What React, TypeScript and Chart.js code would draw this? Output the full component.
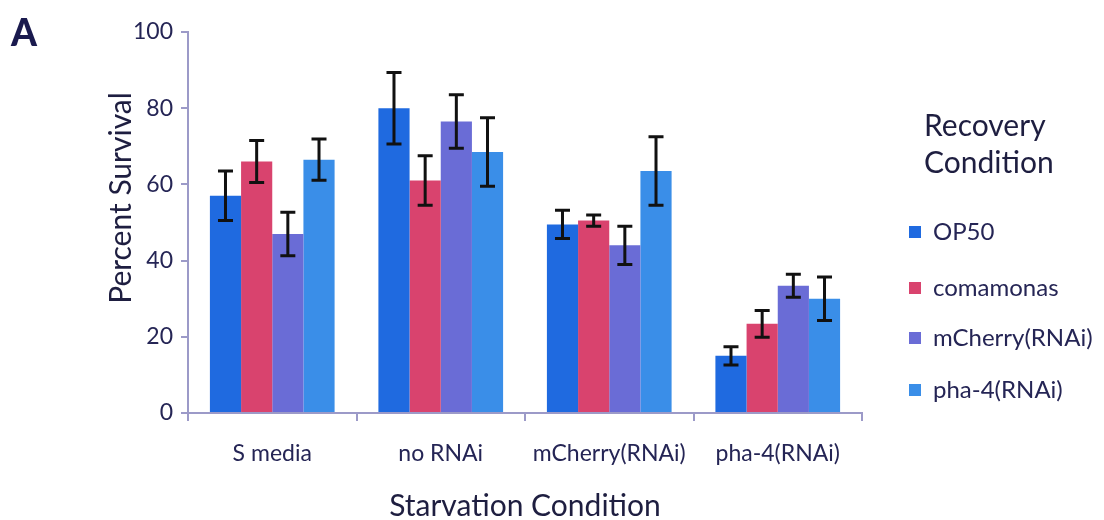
import React, { useEffect, useRef } from "react";
import { Chart, registerables } from "chart.js";

Chart.register(...registerables);

const categories = ["S media", "no RNAi", "mCherry(RNAi)", "pha-4(RNAi)"];
const seriesNames = ["OP50", "comamonas", "mCherry(RNAi)", "pha-4(RNAi)"];
const op50 = [57, 80, 49.5, 15];
const comamonas = [66, 61, 50.5, 23.4];
const mCherry = [47, 76.5, 44, 33.4];
const pha4 = [66.5, 68.5, 63.5, 30];
const op50Err = [6.5, 9.4, 3.7, 2.4];
const comamonasErr = [5.5, 6.5, 1.5, 3.5];
const mCherryErr = [5.7, 7, 5, 3];
const pha4Err = [5.4, 9, 9, 5.7];
const yTicks = [0, 20, 40, 60, 80, 100];
const legendTitle = ["Recovery", "Condition"];
const xTitle = "Starvation Condition";
const yTitle = "Percent Survival";

const colors = ["#1f6ae0", "#d9436e", "#6a6cd6", "#3a8ee8"];
const axisColor = "#9c9ac8";
const textColor = "#252555";
const titleColor = "#1e1e40";
const FONT = "Lato, 'Open Sans', sans-serif";

const errorBarPlugin = {
  id: "errorBars",
  afterDatasetsDraw(chart: any) {
    const ctx = chart.ctx;
    const y = chart.scales.y;
    chart.data.datasets.forEach((ds: any, i: number) => {
      const meta = chart.getDatasetMeta(i);
      meta.data.forEach((bar: any, j: number) => {
        const v = ds.data[j];
        const e = ds.errors[j];
        const top = y.getPixelForValue(v + e);
        const bot = y.getPixelForValue(v - e);
        const x = bar.x;
        ctx.save();
        ctx.strokeStyle = "#111111";
        ctx.lineWidth = 3;
        ctx.beginPath();
        ctx.moveTo(x, top);
        ctx.lineTo(x, bot);
        ctx.moveTo(x - 7.5, top);
        ctx.lineTo(x + 7.5, top);
        ctx.moveTo(x - 7.5, bot);
        ctx.lineTo(x + 7.5, bot);
        ctx.stroke();
        ctx.restore();
      });
    });
  },
};

const extrasPlugin = {
  id: "extras",
  afterDraw(chart: any) {
    const ctx = chart.ctx;
    const area = chart.chartArea;
    ctx.save();
    // Panel letter
    ctx.fillStyle = "#1a1a4e";
    ctx.font = `900 37px ${FONT}`;
    ctx.textBaseline = "alphabetic";
    ctx.textAlign = "left";
    ctx.fillText("A", 11, 46);
    // Axis titles
    ctx.fillStyle = titleColor;
    ctx.font = `30px ${FONT}`;
    ctx.textAlign = "center";
    ctx.fillText(xTitle, (area.left + area.right) / 2, 516);
    ctx.save();
    ctx.translate(131, 198);
    ctx.rotate(-Math.PI / 2);
    ctx.fillText(yTitle, 0, 0);
    ctx.restore();
    // Legend title
    ctx.fillStyle = titleColor;
    ctx.font = `30px ${FONT}`;
    ctx.textAlign = "left";
    ctx.fillText(legendTitle[0], 924, 136);
    ctx.fillText(legendTitle[1], 924, 173);
    // Legend items
    const ys = [232, 288, 338, 390];
    ctx.font = `24px ${FONT}`;
    ctx.textBaseline = "middle";
    chart.data.datasets.forEach((ds: any, i: number) => {
      ctx.fillStyle = ds.backgroundColor;
      ctx.fillRect(909, ys[i] - 6, 12, 12);
      ctx.fillStyle = textColor;
      ctx.fillText(ds.label, 933, ys[i]);
    });
    ctx.restore();
  },
};

export default function App() {
  const ref = useRef<HTMLCanvasElement>(null);
  useEffect(() => {
    if (!ref.current) return;
    const values = [op50, comamonas, mCherry, pha4];
    const errs = [op50Err, comamonasErr, mCherryErr, pha4Err];
    const chart = new Chart(ref.current, {
      type: "bar",
      data: {
        labels: categories,
        datasets: seriesNames.map((name, i) => ({
          label: name,
          data: values[i],
          errors: errs[i],
          backgroundColor: colors[i],
          borderWidth: 0,
          categoryPercentage: 0.74,
          barPercentage: 1.0,
        })) as any,
      },
      options: {
        animation: false,
        responsive: false,
        maintainAspectRatio: false,
        layout: { padding: { left: 0, right: 242, top: 32, bottom: 0 } },
        plugins: {
          legend: { display: false },
          tooltip: { enabled: false },
        },
        scales: {
          x: {
            grid: {
              display: true,
              drawOnChartArea: false,
              drawTicks: true,
              tickLength: 8,
              color: axisColor,
              lineWidth: 2,
              offset: true,
            },
            border: { color: axisColor, width: 2 },
            ticks: {
              color: textColor,
              font: { family: FONT, size: 23 },
              padding: 19,
            },
            title: { display: false },
            afterFit(scale: any) {
              scale.height = 107;
            },
          },
          y: {
            min: 0,
            max: 100,
            afterBuildTicks(scale: any) {
              scale.ticks = yTicks.map((v) => ({ value: v }));
            },
            grid: {
              display: true,
              drawOnChartArea: false,
              drawTicks: true,
              tickLength: 7,
              color: axisColor,
              lineWidth: 2,
            },
            border: { color: axisColor, width: 2 },
            ticks: {
              color: textColor,
              font: { family: FONT, size: 23 },
              padding: 8,
            },
            title: { display: false },
            afterFit(scale: any) {
              scale.width = 188;
            },
          },
        },
      },
      plugins: [errorBarPlugin, extrasPlugin],
    });
    return () => chart.destroy();
  }, []);
  return (
    <div style={{ position: "fixed", left: 0, top: 0, width: 1104, height: 520, background: "#ffffff" }}>
      <canvas ref={ref} width={1104} height={520} style={{ width: 1104, height: 520 }} />
    </div>
  );
}
